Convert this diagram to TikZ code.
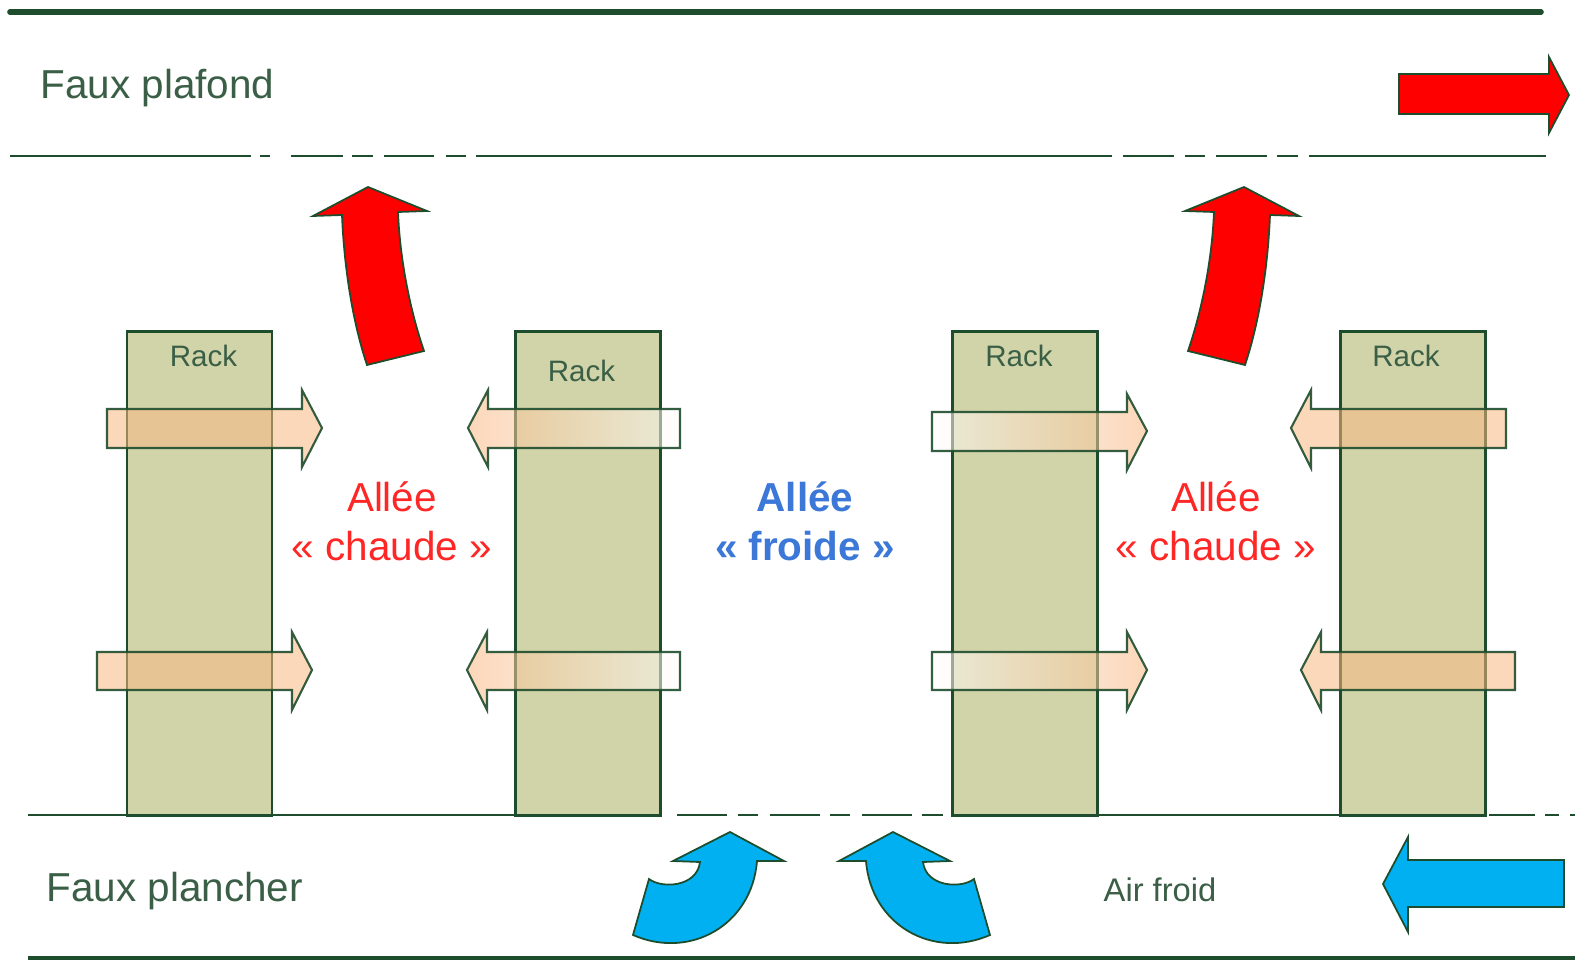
\documentclass[tikz,border=0pt]{standalone}
\usepackage{fontspec}
\setmainfont{Liberation Sans}
\definecolor{edgegreen}{RGB}{30,77,45}
\definecolor{rackfill}{RGB}{209,211,168}
\definecolor{labelgreen}{RGB}{58,95,70}
\definecolor{peach}{RGB}{250,184,130}
\definecolor{hotred}{RGB}{255,0,0}
\definecolor{coldblue}{RGB}{0,176,240}
\definecolor{textred}{RGB}{255,38,38}
\definecolor{textblue}{RGB}{60,120,216}
\begin{document}
\begin{tikzpicture}[x=0.01cm,y=-0.01cm,
  rack/.style={draw=edgegreen, fill=rackfill, line width=0.7pt, inner sep=0pt,
               minimum width=1.45cm, minimum height=4.84cm},
  racklabel/.style={inner sep=0pt, anchor=base, text=labelgreen, font=\fontsize{8.4}{10}\selectfont},
  zone/.style={inner sep=0pt, anchor=base west, text=labelgreen, font=\fontsize{11.5}{14}\selectfont},
  hotlabel/.style={inner sep=0pt, anchor=base, text=textred, font=\fontsize{11.5}{14}\selectfont},
  coldlabel/.style={inner sep=0pt, anchor=base, text=textblue, font=\bfseries\fontsize{11.5}{14}\selectfont},
  smalllabel/.style={inner sep=0pt, anchor=base west, text=labelgreen, font=\fontsize{9.3}{11}\selectfont},
  wall/.style={draw=edgegreen, line width=0.8pt},
  airflow/.style={fill=peach, fill opacity=0.55, draw=edgegreen, draw opacity=0.9, line width=0.6pt},
  airfadeL/.style={left color=peach, right color=white, fill opacity=0.55, draw=edgegreen, draw opacity=0.9, line width=0.6pt},
  airfadeR/.style={left color=white, right color=peach, fill opacity=0.55, draw=edgegreen, draw opacity=0.9, line width=0.6pt},
  hotflow/.style={fill=hotred, draw=edgegreen, line width=0.5pt, line join=miter},
  coldflow/.style={fill=coldblue, draw=edgegreen, line width=0.5pt, line join=miter}]

\useasboundingbox (0,0) rectangle (1575,961);
\fill[white] (0,0) rectangle (1575,961);

% ceiling slab and false ceiling with its vents
\draw[edgegreen, line width=1.6pt, line cap=round] (10,12) -- (1541,12);
\foreach \a/\b in {10/251, 260/270, 291/343, 352/373, 384/434, 446/466, 476/1112,
                   1123/1174, 1185/1205, 1216/1267, 1277/1298, 1309/1546}
  \draw[wall] (\a,156) -- (\b,156);

% zone names
\node[zone] (plafond) at (40,99) {Faux plafond};
\node[zone] (plancher) at (46,902) {Faux plancher};
\node[smalllabel] (airfroid) at (1103,901) {Air froid};

% racks
\node[rack] (r1) at (199.5,573.5) {};
\node[rack] (r2) at (588,573.5) {};
\node[rack] (r3) at (1025,573.5) {};
\node[rack] (r4) at (1413,573.5) {};
\node[racklabel] (l1) at (203.5,367) {Rack};
\node[racklabel] (l2) at (581.5,382) {Rack};
\node[racklabel] (l3) at (1019,367) {Rack};
\node[racklabel] (l4) at (1406,367) {Rack};

% raised floor with its perforated tiles
\draw[wall] (28,815) -- (661,815);
\foreach \a/\b in {677/727, 738/758, 770/820, 830/850, 862/912, 922/943}
  \draw[wall] (\a,815) -- (\b,815);
\draw[wall] (952,815) -- (1486,815);
\foreach \a/\b in {1489/1535, 1545/1559, 1570/1575}
  \draw[wall] (\a,815) -- (\b,815);
\draw[edgegreen, line width=1.1pt] (28,958) -- (1575,958);

% air through the racks, upper row
\draw[airflow] (107,409) -- (302,409) -- (302,390) -- (322,428) -- (302,467)
  -- (302,448) -- (107,448) -- cycle;
\draw[airfadeL] (680,409) -- (488,409) -- (488,390) -- (468,428) -- (488,467)
  -- (488,448) -- (680,448) -- cycle;
\draw[airfadeR] (932,412) -- (1127,412) -- (1127,394) -- (1147,431) -- (1127,470)
  -- (1127,451) -- (932,451) -- cycle;
\draw[airflow] (1506,409) -- (1311,409) -- (1311,390) -- (1291,428) -- (1311,468)
  -- (1311,448) -- (1506,448) -- cycle;

% air through the racks, lower row
\draw[airflow] (97,652) -- (292,652) -- (292,632) -- (312,670) -- (292,710)
  -- (292,690) -- (97,690) -- cycle;
\draw[airfadeL] (680,652) -- (487,652) -- (487,632) -- (467,670) -- (487,710)
  -- (487,690) -- (680,690) -- cycle;
\draw[airfadeR] (932,652) -- (1127,652) -- (1127,632) -- (1147,670) -- (1127,710)
  -- (1127,690) -- (932,690) -- cycle;
\draw[airflow] (1515,652) -- (1321,652) -- (1321,632) -- (1301,670) -- (1321,710)
  -- (1321,690) -- (1515,690) -- cycle;

% aisle names
\node[hotlabel] (hotA1) at (392,512) {Allée};
\node[hotlabel] (hotB1) at (392,561) {«~chaude~»};
\node[coldlabel] (coldA) at (805,512) {Allée};
\node[coldlabel] (coldB) at (805,561) {«~froide~»};
\node[hotlabel] (hotA2) at (1216,512) {Allée};
\node[hotlabel] (hotB2) at (1216,561) {«~chaude~»};

% hot air rising from the hot aisles
\draw[hotflow] (368,187) -- (427,211) -- (398,212)
  .. controls (400,260) and (410,310) .. (424,351) -- (367,365)
  .. controls (352,320) and (344,265) .. (342,215) -- (313,216) -- cycle;
\begin{scope}[shift={(1612,0)}, xscale=-1]
\draw[hotflow] (368,187) -- (427,211) -- (398,212)
  .. controls (400,260) and (410,310) .. (424,351) -- (367,365)
  .. controls (352,320) and (344,265) .. (342,215) -- (313,216) -- cycle;
\end{scope}
\draw[hotflow] (1399,74) -- (1549,74) -- (1549,57) -- (1569,95) -- (1549,133)
  -- (1549,114) -- (1399,114) -- cycle;

% cold air under the floor
\draw[coldflow] (1564,860) -- (1408,860) -- (1408,837) -- (1383,884) -- (1408,932)
  -- (1408,907) -- (1564,907) -- cycle;
\draw[coldflow] (730,832) -- (784,861) -- (757,861)
  .. controls (752,925) and (690,960) .. (633,935) -- (649,879)
  .. controls (662,889) and (697,887) .. (700,862) -- (673,861) -- cycle;
\begin{scope}[shift={(1623,0)}, xscale=-1]
\draw[coldflow] (730,832) -- (784,861) -- (757,861)
  .. controls (752,925) and (690,960) .. (633,935) -- (649,879)
  .. controls (662,889) and (697,887) .. (700,862) -- (673,861) -- cycle;
\end{scope}
\end{tikzpicture}
\end{document}
